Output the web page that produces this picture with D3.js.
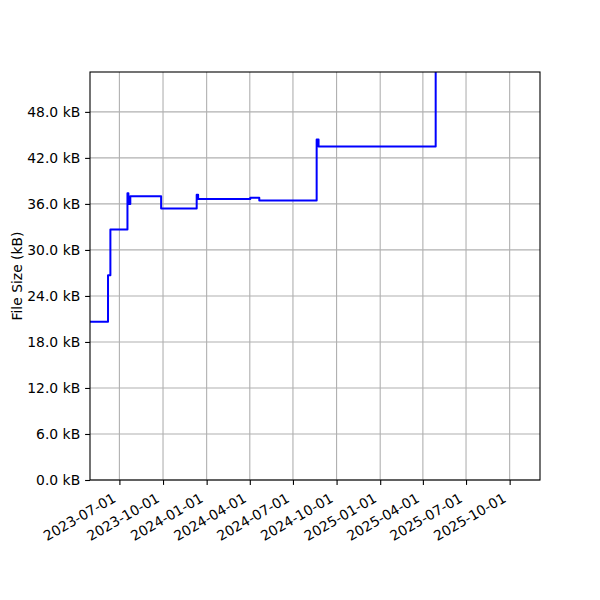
<!DOCTYPE html>
<html>

<head>
    <meta http-equiv="Content-Type" content="text/html;" charset="utf-8">
    <script type="text/javascript" src="https://cdn.jsdelivr.net/npm/d3@7/dist/d3.min.js"></script>
    <style>
        body { margin: 0; background: #fff; }
        text { font-family: "DejaVu Sans", sans-serif; }
    </style>
</head>

<body>
    <div class="chart-div"></div>
    <script type="text/javascript">

        var width = 600;
        var height = 600;

        //--------------------------------------------DATA

        var dates = ["2023-04-30", "2023-06-07", "2023-06-12", "2023-07-18", "2023-07-20", "2023-07-24",
            "2023-09-27", "2023-12-11", "2023-12-14", "2024-04-02", "2024-04-21", "2024-08-20",
            "2024-08-24", "2025-04-28", "2025-12-04"]
        var sizes = [20.65, 26.7, 32.65, 37.4, 36.0, 37.0,
            35.4, 37.2, 36.65, 36.8, 36.45, 44.4,
            43.5, 60.0, 60.0]
        var xTicks = ["2023-07-01", "2023-10-01", "2024-01-01", "2024-04-01", "2024-07-01",
            "2024-10-01", "2025-01-01", "2025-04-01", "2025-07-01", "2025-10-01"]
        var yTicks = [0, 6, 12, 18, 24, 30, 36, 42, 48]
        var xDomain = ["2023-04-30", "2025-12-04"]
        var yDomain = [0, 53.2]

        var parse = d3.timeParse("%Y-%m-%d");
        var data = dates.map(function (d, i) { return { date: parse(d), size: sizes[i] }; });

        //--------------------------------------------CONTAINERS

        var mLeft = 90, mRight = 540, mTop = 72, mBottom = 480;

        var svg = d3.select("div.chart-div")
            .append("svg")
            .attr("width", width)
            .attr("height", height);

        var x = d3.scaleTime()
            .domain(xDomain.map(parse))
            .range([mLeft, mRight]);

        var y = d3.scaleLinear()
            .domain(yDomain)
            .range([mBottom, mTop]);

        svg.append("clipPath").attr("id", "clip")
            .append("rect")
            .attr("x", mLeft).attr("y", mTop)
            .attr("width", mRight - mLeft).attr("height", mBottom - mTop);

        //------------------------------------------ GRID

        var grid = svg.append("g");
        grid.selectAll("line.vx")
            .data(xTicks.map(parse))
            .enter().append("line")
            .attr("x1", function (d) { return x(d); })
            .attr("x2", function (d) { return x(d); })
            .attr("y1", mTop).attr("y2", mBottom)
            .attr("stroke", "#b0b0b0")
            .attr("stroke-width", 1.1);
        grid.selectAll("line.hy")
            .data(yTicks)
            .enter().append("line")
            .attr("y1", function (d) { return y(d); })
            .attr("y2", function (d) { return y(d); })
            .attr("x1", mLeft).attr("x2", mRight)
            .attr("stroke", "#b0b0b0")
            .attr("stroke-width", 1.1);

        //------------------------------------------ LINE

        var theline = d3.line()
            .curve(d3.curveStepAfter)
            .x(function (d) { return x(d.date); })
            .y(function (d) { return y(d.size); });

        svg.append("path")
            .attr("clip-path", "url(#clip)")
            .attr("fill", "none")
            .attr("stroke", "#0000ff")
            .attr("stroke-width", 2)
            .attr("stroke-linejoin", "round")
            .attr("d", theline(data));

        //------------------------------------------ AXES

        var yAxis = d3.axisLeft(y)
            .tickValues(yTicks)
            .tickSize(4.9)
            .tickPadding(4.9)
            .tickFormat(function (d) { return d3.format(".1f")(d) + " kB"; });

        var xAxis = d3.axisBottom(x)
            .tickValues(xTicks.map(parse))
            .tickSize(4.9)
            .tickPadding(4.9)
            .tickFormat(d3.timeFormat("%Y-%m-%d"));

        var ya = svg.append("g")
            .attr("transform", "translate(" + mLeft + ",0)")
            .call(yAxis);
        ya.select(".domain").remove();
        ya.selectAll("text").attr("font-size", 13.9).attr("fill", "#000").attr("font-family", "DejaVu Sans");
        ya.selectAll("line").attr("stroke", "#000").attr("stroke-width", 1.1);

        var xa = svg.append("g")
            .attr("transform", "translate(0," + mBottom + ")")
            .call(xAxis);
        xa.select(".domain").remove();
        xa.selectAll("line").attr("stroke", "#000").attr("stroke-width", 1.1);
        xa.selectAll("text")
            .attr("font-size", 13.9)
            .attr("fill", "#000")
            .attr("font-family", "DejaVu Sans")
            .attr("text-anchor", "end")
            .attr("dy", "0")
            .attr("y", 0)
            .attr("transform", "translate(-3,21) rotate(-30)");

        // frame
        svg.append("rect")
            .attr("x", mLeft).attr("y", mTop)
            .attr("width", mRight - mLeft).attr("height", mBottom - mTop)
            .attr("fill", "none")
            .attr("stroke", "#000")
            .attr("stroke-width", 1.1);

        svg.append("text")
            .attr("transform", "translate(17," + ((mTop + mBottom) / 2) + ") rotate(-90)")
            .attr("dy", "0.35em")
            .attr("text-anchor", "middle")
            .attr("font-size", 13.9)
            .attr("fill", "#000")
            .text("File Size (kB)");

    </script>

</body>

</html>
